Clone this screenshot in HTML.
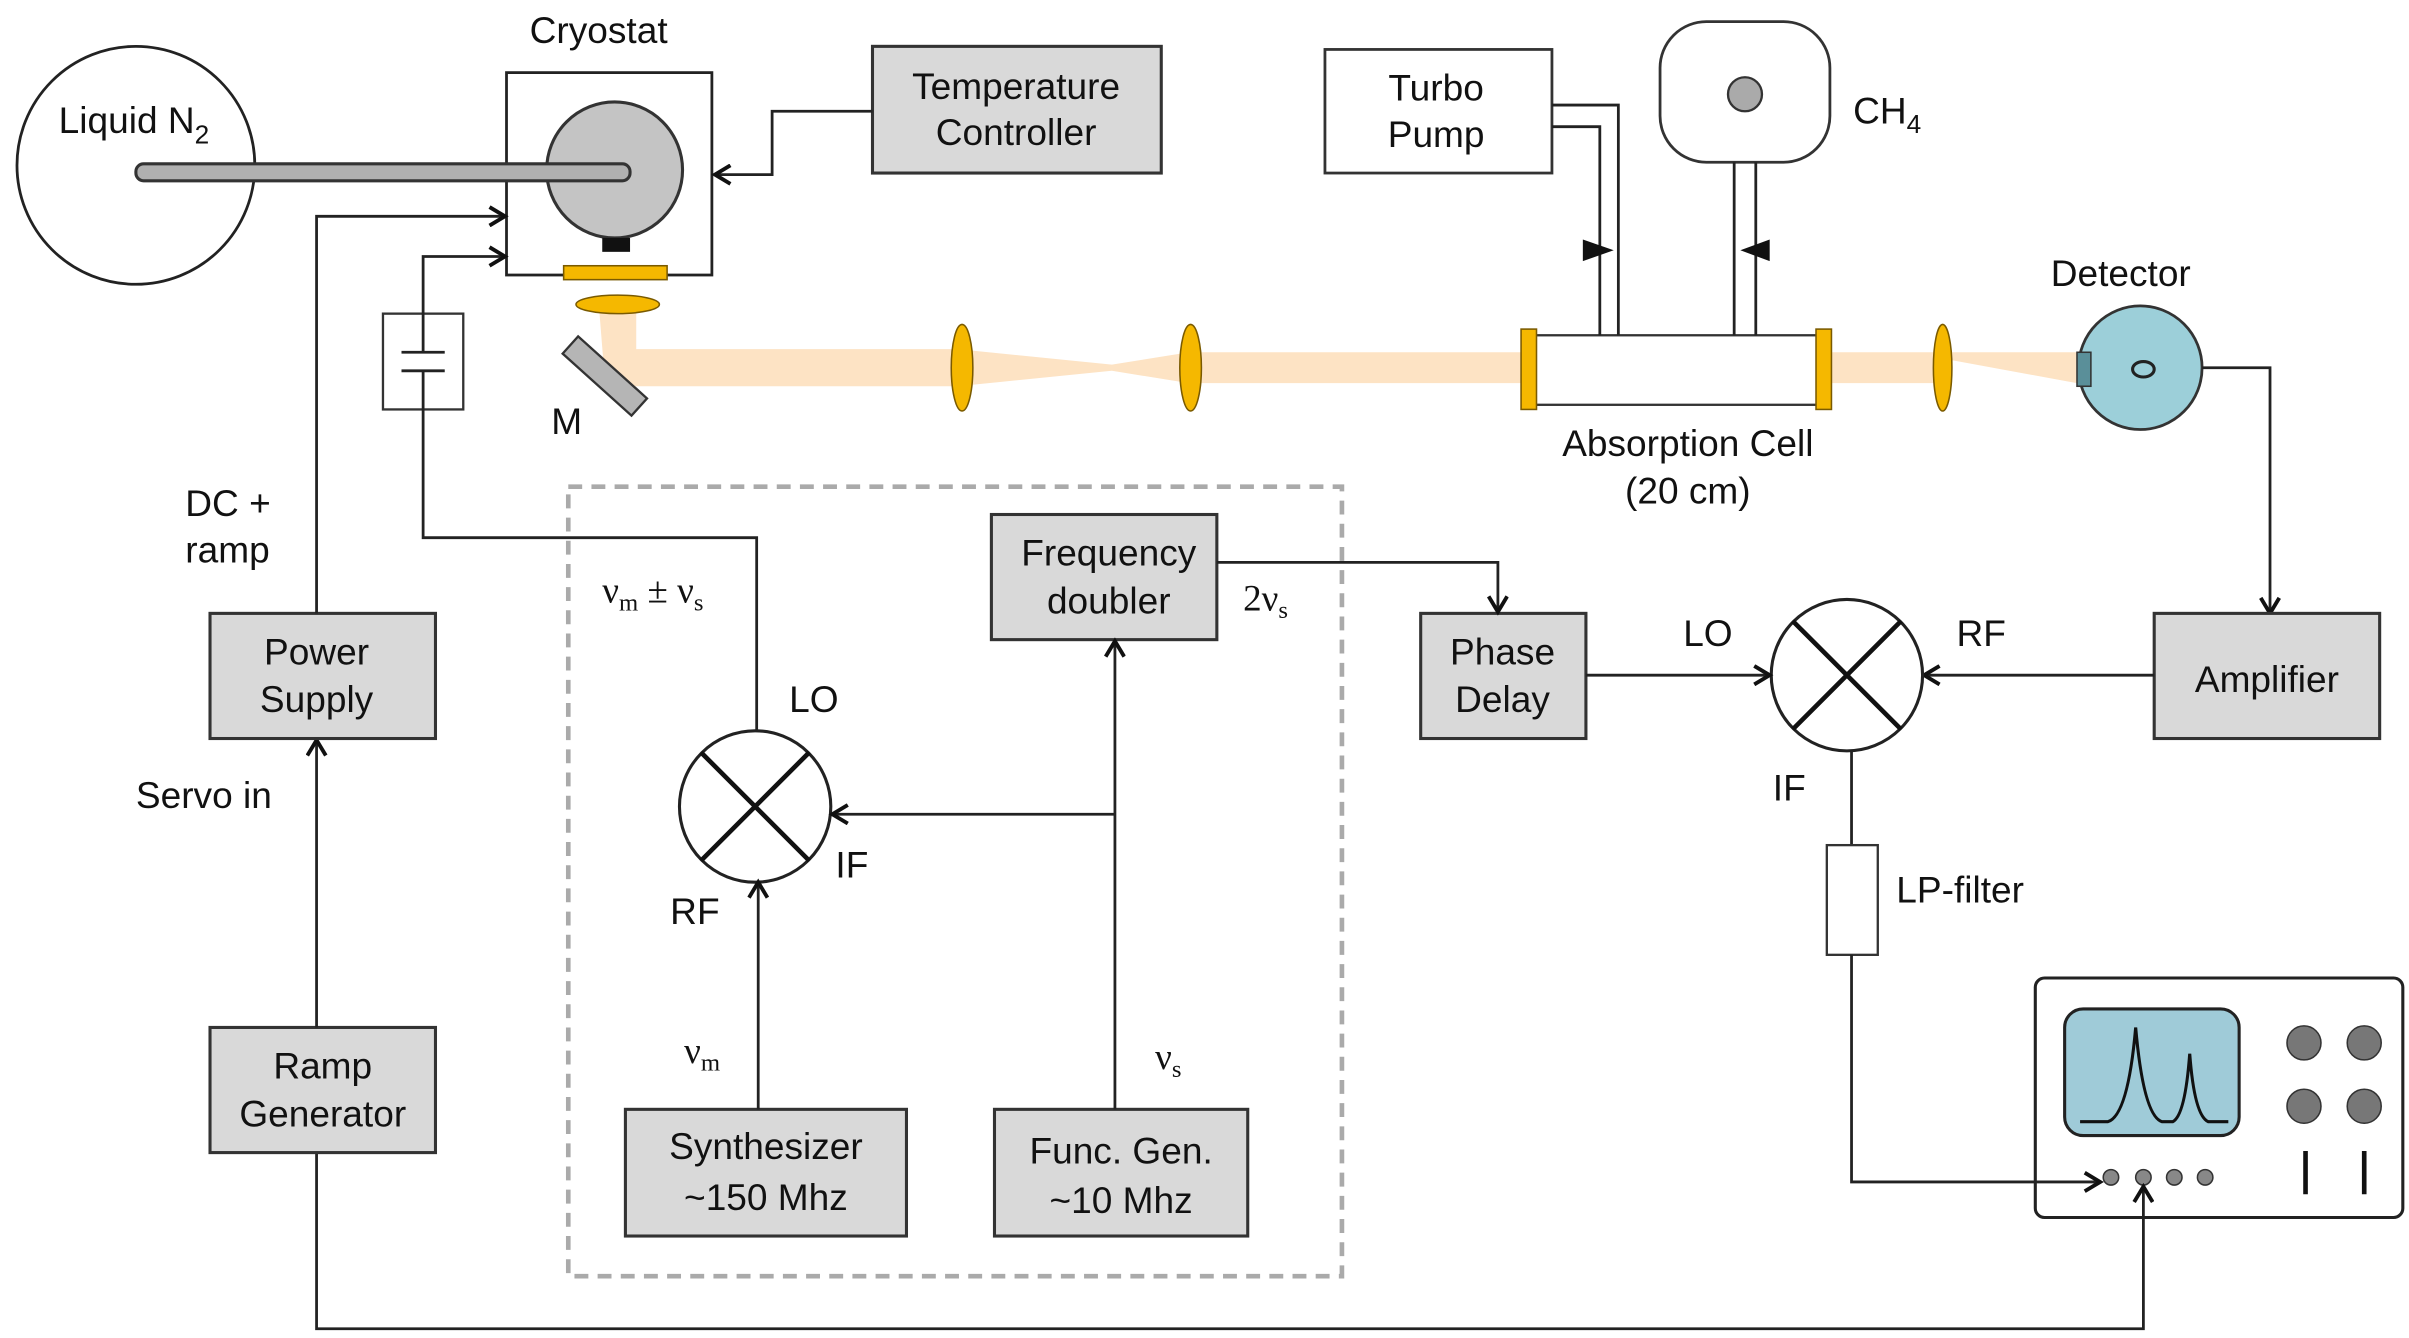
<!DOCTYPE html>
<html><head><meta charset="utf-8"><style>
html,body{margin:0;padding:0;background:#fff;width:2409px;height:1338px;overflow:hidden}
svg{display:block}
text{font-family:"Liberation Sans",sans-serif;font-size:24px;fill:#111}
.s{font-family:"Liberation Serif",serif}
.b{fill:#d9d9d9;stroke:#333;stroke-width:2}
.l{fill:none;stroke:#222;stroke-width:1.8}
</style></head><body>
<svg width="2409" height="1338" viewBox="0 0 1560 866" preserveAspectRatio="none" xmlns="http://www.w3.org/2000/svg">
<defs>
<marker id="a" markerWidth="14" markerHeight="14" refX="11" refY="7" orient="auto" markerUnits="userSpaceOnUse"><path d="M1,1 L11,7 L1,13" fill="none" stroke="#111" stroke-width="2.5"/></marker>
</defs>
<path d="M388,200 L412,200 L412,226 L620,226 L720,236 L770,228 L1345,228 L1345,248 L1258,232 L1258,248 L770,248 L720,240 L620,250 L412,250 L392,250 Z" fill="#fde3c4"/>
<circle cx="88" cy="107" r="77" fill="#fff" stroke="#222" stroke-width="1.8"/>
<text x="38" y="86">Liquid N<tspan font-size="17" dy="7">2</tspan></text>
<text x="343" y="28">Cryostat</text>
<rect x="328" y="47" width="133" height="131" fill="#fff" stroke="#222" stroke-width="1.8"/>
<circle cx="398" cy="110" r="44" fill="#c4c4c4" stroke="#333" stroke-width="2"/>
<rect x="88" y="106" width="320" height="11" rx="5" fill="#b0b0b0" stroke="#333" stroke-width="2"/>
<rect x="390" y="154" width="18" height="9" fill="#111"/>
<rect x="365" y="172" width="67" height="9" fill="#f5b800" stroke="#7a5a00" stroke-width="1"/>
<ellipse cx="400" cy="197" rx="27" ry="6" fill="#f5b800" stroke="#7a5a00" stroke-width="1"/>
<rect x="362" y="236" width="60" height="15" fill="#b5b5b5" stroke="#333" stroke-width="1.5" transform="rotate(42 392 243)"/>
<text x="357" y="281">M</text>
<rect x="565" y="30" width="187" height="82" class="b"/>
<text x="658" y="64" text-anchor="middle">Temperature</text>
<text x="658" y="94" text-anchor="middle">Controller</text>
<path d="M565,72 H500 V113 H463" class="l" marker-end="url(#a)"/>
<ellipse cx="623" cy="238" rx="7" ry="28" fill="#f5b800" stroke="#7a5a00"/>
<ellipse cx="771" cy="238" rx="7" ry="28" fill="#f5b800" stroke="#7a5a00"/>
<ellipse cx="1258" cy="238" rx="6" ry="28" fill="#f5b800" stroke="#7a5a00"/>
<rect x="990" y="217" width="192" height="45" fill="#fff" stroke="#333" stroke-width="1.5"/>
<rect x="985" y="213" width="10" height="52" fill="#f5b800" stroke="#7a5a00"/>
<rect x="1176" y="213" width="10" height="52" fill="#f5b800" stroke="#7a5a00"/>
<text x="1093" y="295" text-anchor="middle">Absorption Cell</text>
<text x="1093" y="326" text-anchor="middle">(20 cm)</text>
<rect x="858" y="32" width="147" height="80" fill="#fff" stroke="#333" stroke-width="1.8"/>
<text x="930" y="65" text-anchor="middle">Turbo</text>
<text x="930" y="95" text-anchor="middle">Pump</text>
<path d="M1005,68 H1048 V217 M1005,82 H1036 V217" class="l"/>
<path d="M1025,155 L1045,162 L1025,169 Z" fill="#111"/>
<rect x="1075" y="14" width="110" height="91" rx="30" fill="#fff" stroke="#333" stroke-width="1.8"/>
<circle cx="1130" cy="61" r="11" fill="#aaa" stroke="#333" stroke-width="1.5"/>
<path d="M1123,105 V217 M1137,105 V217" class="l"/>
<path d="M1146,155 L1127,162 L1146,169 Z" fill="#111"/>
<text x="1200" y="80">CH<tspan font-size="17" dy="6">4</tspan></text>
<text x="1328" y="185">Detector</text>
<circle cx="1386" cy="238" r="40" fill="#9ccfd9" stroke="#333" stroke-width="1.8"/>
<rect x="1345" y="228" width="9" height="22" fill="#5a8f99" stroke="#333"/>
<ellipse cx="1388" cy="239" rx="7" ry="5" fill="none" stroke="#222" stroke-width="2"/>
<path d="M1426,238 H1470 V397" class="l" marker-end="url(#a)"/>
<rect x="1395" y="397" width="146" height="81" class="b"/>
<text x="1468" y="448" text-anchor="middle">Amplifier</text>
<path d="M1395,437 H1246" class="l" marker-end="url(#a)"/>
<circle cx="1196" cy="437" r="49" fill="#fff" stroke="#222" stroke-width="2"/>
<path d="M1161,402 L1231,472 M1231,402 L1161,472" stroke="#111" stroke-width="3"/>
<text x="1267" y="418">RF</text>
<text x="1090" y="418">LO</text>
<text x="1148" y="518">IF</text>
<rect x="920" y="397" width="107" height="81" class="b"/>
<text x="973" y="430" text-anchor="middle">Phase</text>
<text x="973" y="461" text-anchor="middle">Delay</text>
<path d="M1027,437 H1146" class="l" marker-end="url(#a)"/>
<path d="M1199,486 V547" class="l"/>
<rect x="1183" y="547" width="33" height="71" fill="#fff" stroke="#333" stroke-width="1.5"/>
<text x="1228" y="584">LP-filter</text>
<rect x="1318" y="633" width="238" height="155" rx="6" fill="#fff" stroke="#222" stroke-width="2"/>
<rect x="1337" y="653" width="113" height="82" rx="12" fill="#9fcbd8" stroke="#222" stroke-width="2"/>
<path d="M1347,726 H1365 Q1378,722 1383,665 Q1388,722 1400,726 H1407 Q1415,722 1418,682 Q1421,722 1430,726 H1443" fill="none" stroke="#111" stroke-width="2"/>
<circle cx="1492" cy="675" r="11" fill="#777" stroke="#333"/>
<circle cx="1531" cy="675" r="11" fill="#777" stroke="#333"/>
<circle cx="1492" cy="716" r="11" fill="#777" stroke="#333"/>
<circle cx="1531" cy="716" r="11" fill="#777" stroke="#333"/>
<path d="M1493,745 V773 M1531,745 V773" stroke="#111" stroke-width="3"/>
<circle cx="1367" cy="762" r="5" fill="#888" stroke="#333"/>
<circle cx="1388" cy="762" r="5" fill="#888" stroke="#333"/>
<circle cx="1408" cy="762" r="5" fill="#888" stroke="#333"/>
<circle cx="1428" cy="762" r="5" fill="#888" stroke="#333"/>
<path d="M1199,618 V765 H1360" class="l" marker-end="url(#a)"/>
<path d="M205,746 V860 H1388 V768" class="l" marker-end="url(#a)"/>
<rect x="136" y="665" width="146" height="81" class="b"/>
<text x="209" y="698" text-anchor="middle">Ramp</text>
<text x="209" y="729" text-anchor="middle">Generator</text>
<path d="M205,665 V479" class="l" marker-end="url(#a)"/>
<text x="88" y="523">Servo in</text>
<rect x="136" y="397" width="146" height="81" class="b"/>
<text x="205" y="430" text-anchor="middle">Power</text>
<text x="205" y="461" text-anchor="middle">Supply</text>
<path d="M205,397 V140 H327" class="l" marker-end="url(#a)"/>
<text x="120" y="334">DC +</text>
<text x="120" y="364">ramp</text>
<rect x="248" y="203" width="52" height="62" fill="#fff" stroke="#333" stroke-width="1.5"/>
<path d="M260,228 H288 M260,240 H288" stroke="#222" stroke-width="1.8"/>
<path d="M274,203 V166 H327" class="l" marker-end="url(#a)"/>
<path d="M274,228 V203 M274,240 V265 V348 H490 V473" class="l"/>
<rect x="368" y="315" width="501" height="511" fill="none" stroke="#aaa" stroke-width="3" stroke-dasharray="9,6"/>
<circle cx="489" cy="522" r="49" fill="#fff" stroke="#222" stroke-width="2"/>
<path d="M454,487 L524,557 M524,487 L454,557" stroke="#111" stroke-width="3"/>
<text x="511" y="461">LO</text>
<text x="541" y="568">IF</text>
<text x="434" y="598">RF</text>
<text x="390" y="390" class="s">ν<tspan font-size="16" dy="5">m</tspan><tspan dy="-5"> ± ν</tspan><tspan font-size="16" dy="5">s</tspan></text>
<rect x="642" y="333" width="146" height="81" class="b"/>
<text x="718" y="366" text-anchor="middle">Frequency</text>
<text x="718" y="397" text-anchor="middle">doubler</text>
<text x="805" y="395" class="s">2ν<tspan font-size="16" dy="5">s</tspan></text>
<path d="M788,364 H970 V396" class="l" marker-end="url(#a)"/>
<rect x="644" y="718" width="164" height="82" class="b"/>
<text x="726" y="753" text-anchor="middle">Func. Gen.</text>
<text x="726" y="785" text-anchor="middle">~10 Mhz</text>
<path d="M722,718 V415" class="l" marker-end="url(#a)"/>
<path d="M722,527 H539" class="l" marker-end="url(#a)"/>
<text x="748" y="692" class="s">ν<tspan font-size="16" dy="5">s</tspan></text>
<rect x="405" y="718" width="182" height="82" class="b"/>
<text x="496" y="750" text-anchor="middle">Synthesizer</text>
<text x="496" y="783" text-anchor="middle">~150 Mhz</text>
<path d="M491,718 V571" class="l" marker-end="url(#a)"/>
<text x="443" y="688" class="s">ν<tspan font-size="16" dy="5">m</tspan></text>
</svg>
</body></html>
